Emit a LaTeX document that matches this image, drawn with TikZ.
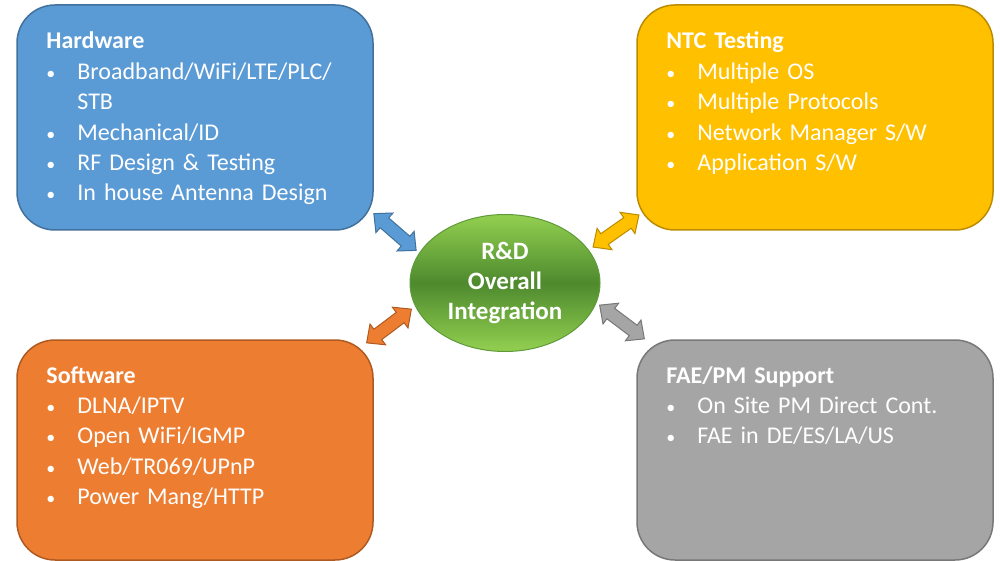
\documentclass[tikz,border=0pt]{standalone}
\usepackage{fontspec}
\setmainfont{Carlito}
\usetikzlibrary{shapes.geometric}

\definecolor{hwfill}{HTML}{5B9BD5}
\definecolor{hwline}{HTML}{41719C}
\definecolor{swfill}{HTML}{ED7D31}
\definecolor{swline}{HTML}{AE5A21}
\definecolor{ntcfill}{HTML}{FFC000}
\definecolor{ntcline}{HTML}{BC8C00}
\definecolor{faefill}{HTML}{A5A5A5}
\definecolor{faeline}{HTML}{787878}
\definecolor{rdlight}{HTML}{92D050}
\definecolor{rddark}{HTML}{4E8A2E}
\definecolor{rdline}{HTML}{5E9A3A}

\tikzstyle{box} = [draw, line width=0.75pt, rounded corners=19pt, minimum width=178pt, minimum height=112.5pt, inner sep=0pt]
\tikzstyle{info} = [anchor=base west, text width=170pt, align=left, text=white, inner sep=0pt, font=\fontsize{12}{15.2}\selectfont]
\tikzstyle{hub} = [ellipse, draw=rdline, line width=0.5pt, top color=rdlight, bottom color=rdlight, middle color=rddark, minimum width=95pt, minimum height=68.5pt, inner sep=0pt, align=center, text=white, font=\fontsize{12.5}{15.2}\selectfont\bfseries]
\tikzset{twoway/.pic={
	\path[pic actions] (-28,0) -- (-14,13) -- (-14,6.5) -- (14,6.5) -- (14,13) -- (28,0) -- (14,-13) -- (14,-6.5) -- (-14,-6.5) -- (-14,-13) -- cycle;}}
\newcommand{\itm}[1]{\makebox[15.5pt][l]{\scalebox{0.75}{\textbullet}}#1}

\begin{document}
\begin{tikzpicture}[x=0.5pt,y=-0.5pt]
		\path[use as bounding box, fill=white] (0,0) rectangle (1000,561);
		
		%boxes
		\node[box, fill=hwfill, draw=hwline] (hw) at (195,117.5) {};
		\node[box, fill=ntcfill, draw=ntcline] (ntc) at (815,117.5) {};
		\node[box, fill=swfill, draw=swline, minimum height=110pt] (sw) at (195,450) {};
		\node[box, fill=faefill, draw=faeline, minimum height=110pt] (fae) at (815,450) {};
		%texts
		\node[info] (hwtext) at (46,49) {\textbf{Hardware}\\ \itm{Broadband/WiFi/LTE/PLC/}\\ \hspace*{15.5pt}STB\\ \itm{Mechanical/ID}\\ \itm{RF Design \& Testing}\\ \itm{In house Antenna Design}};
		\node[info] (ntctext) at (666,49) {\textbf{NTC Testing}\\ \itm{Multiple OS}\\ \itm{Multiple Protocols}\\ \itm{Network Manager S/W}\\ \itm{Application S/W}};
		\node[info] (swtext) at (46,383) {\textbf{Software}\\ \itm{DLNA/IPTV}\\ \itm{Open WiFi/IGMP}\\ \itm{Web/TR069/UPnP}\\ \itm{Power Mang/HTTP}};
		\node[info] (faetext) at (666,383) {\textbf{FAE/PM Support}\\ \itm{On Site PM Direct Cont.}\\ \itm{FAE in DE/ES/LA/US}};
		%center
		\node[hub] (rd) at (505,283) {R\&D\\Overall\\Integration};
		%arrows
		\pic[rotate=-41, fill=hwfill, draw=hwline, line width=0.5pt] (hwarr) at (395,232) {twoway};
		\pic[rotate=37, fill=swfill, draw=swline, line width=0.5pt] (swarr) at (389,326) {twoway};
		\pic[rotate=35, fill=ntcfill, draw=ntcline, line width=0.5pt] (ntcarr) at (616,231) {twoway};
		\pic[rotate=-37, fill=faefill, draw=faeline, line width=0.5pt] (faearr) at (622,322) {twoway};
		\end{tikzpicture}
\end{document}
